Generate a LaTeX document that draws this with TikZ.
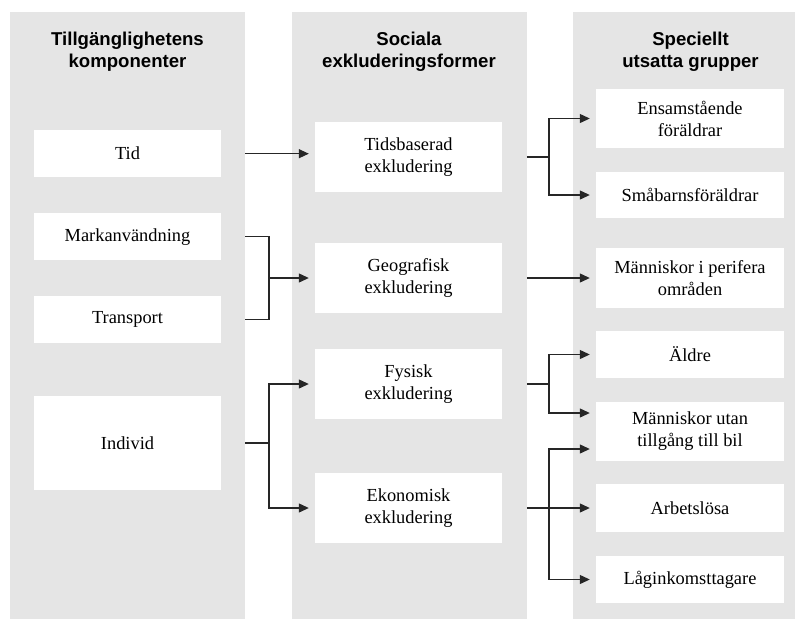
\documentclass[tikz,border=0pt]{standalone}
\usepackage{fontspec}
\setmainfont{Liberation Serif}
\newfontfamily\headfont{Liberation Sans}
\usetikzlibrary{arrows.meta,calc}
\definecolor{panelgray}{RGB}{229,229,229}
\begin{document}
\begin{tikzpicture}[x=1pt,y=-1pt,
  panel/.style={fill=panelgray, draw=none, inner sep=0pt, minimum width=235pt, minimum height=607pt, anchor=north west},
  box/.style={fill=white, draw=none, inner sep=0pt, align=center, font=\fontsize{18.4}{22}\selectfont},
  lbox/.style={box, minimum width=187pt},
  rbox/.style={box, minimum width=188pt},
  title/.style={align=center, font=\headfont\bfseries\fontsize{18.6}{22}\selectfont},
  conn/.style={draw=black!85, line width=1.2pt},
  arr/.style={conn, -{Triangle[length=10pt,width=9pt]}}]
\useasboundingbox (0,0) rectangle (795,619);
\clip (0,0) rectangle (795,619);

% panels
\node[panel] (p1) at (10,12) {};
\node[panel] (p2) at (291.5,12) {};
\node[panel] (p3) at (573,12) {};

% titles
\node[title] (t1) at (127.5,51.5) {Tillgänglighetens\\komponenter};
\node[title] (t2) at (409,51.5) {Sociala\\exkluderingsformer};
\node[title] (t3) at (690.5,51.5) {Speciellt\\utsatta grupper};

% left column
\node[lbox, minimum height=47pt] (tid) at (127.5,153.7) {Tid};
\node[lbox, minimum height=47pt] (mark) at (127.5,236.7) {Markanvändning};
\node[lbox, minimum height=47pt] (trans) at (127.5,319.5) {Transport};
\node[lbox, minimum height=94pt] (ind) at (127.5,443) {Individ};

% middle column
\node[lbox, minimum height=70pt] (tsb) at (408.5,157) {Tidsbaserad\\exkludering};
\node[lbox, minimum height=70pt] (geo) at (408.5,278) {Geografisk\\exkludering};
\node[lbox, minimum height=70pt] (fys) at (408.5,384) {Fysisk\\exkludering};
\node[lbox, minimum height=70pt] (eko) at (408.5,508) {Ekonomisk\\exkludering};

% right column
\node[rbox, minimum height=59pt] (ens) at (690,118.5) {Ensamstående\\föräldrar};
\node[rbox, minimum height=46pt] (sma) at (690,195) {Småbarnsföräldrar};
\node[rbox, minimum height=60pt] (per) at (690,278) {Människor i perifera\\områden};
\node[rbox, minimum height=47pt] (ald) at (690,354.5) {Äldre};
\node[rbox, minimum height=59pt] (utan) at (690,431.5) {Människor utan\\tillgång till bil};
\node[rbox, minimum height=48pt] (arb) at (690,508) {Arbetslösa};
\node[rbox, minimum height=47pt] (lag) at (690,579.5) {Låginkomsttagare};

% branch points
\coordinate (bL) at (269,0);
\coordinate (bR) at (549,0);

% left connectors
\draw[arr] (p1.east |- tid) -- ([xshift=-6pt]tsb.west |- tid);
\draw[conn] (p1.east |- mark) -| (bL |- trans) -- (p1.east |- trans);
\draw[arr] (bL |- geo) -- ([xshift=-6pt]geo.west);
\draw[conn] (p1.east |- ind) -- (bL |- ind);
\draw[arr] (bL |- ind) |- ([xshift=-6pt]fys.west);
\draw[arr] (bL |- ind) |- ([xshift=-6pt]eko.west);

% right connectors
\draw[conn] (p2.east |- tsb) -- (bR |- tsb);
\draw[arr] (bR |- tsb) |- ([xshift=-6pt]ens.west);
\draw[arr] (bR |- tsb) |- ([xshift=-6pt]sma.west);
\draw[arr] (p2.east |- geo) -- ([xshift=-6pt]per.west);
\draw[conn] (p2.east |- fys) -- (bR |- fys);
\draw[arr] (bR |- fys) |- ([xshift=-6pt]ald.west);
\draw[arr] (bR |- fys) |- ($(utan.west)+(-6,-18.5)$);
\draw[arr] (p2.east |- eko) -- ([xshift=-6pt]arb.west);
\draw[arr] (bR |- eko) |- ($(utan.west)+(-6,17.5)$);
\draw[arr] (bR |- eko) |- ([xshift=-6pt]lag.west);
\end{tikzpicture}
\end{document}
